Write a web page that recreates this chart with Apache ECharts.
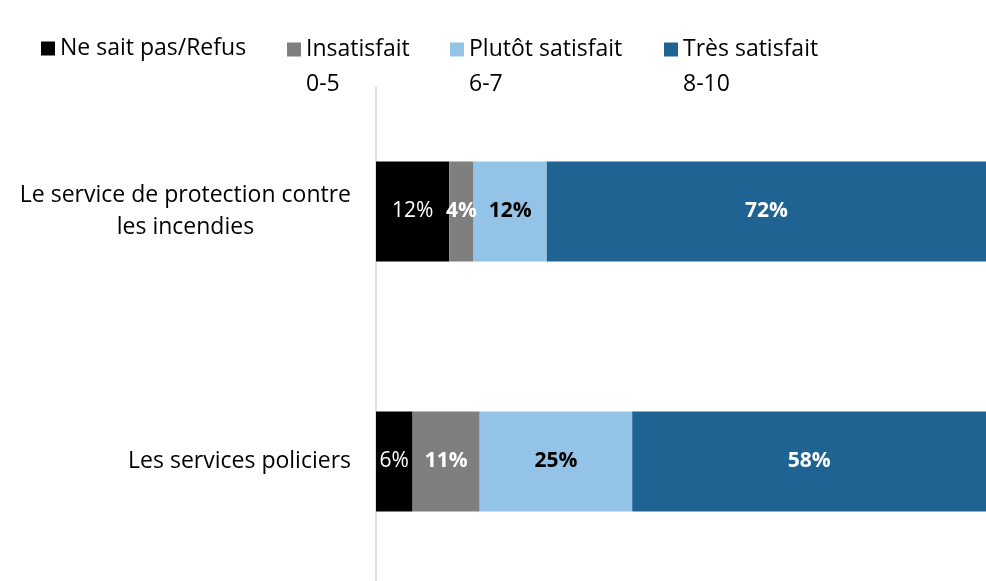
<!DOCTYPE html>
<html>
<head>
<meta charset="utf-8">
<script src="https://cdn.jsdelivr.net/npm/echarts@6/dist/echarts.min.js"></script>
<style>
  html, body { margin: 0; padding: 0; background: #fff; }
  #chart { width: 986px; height: 581px; }
</style>
</head>
<body>
<div id="chart"></div>
<script>
  // categories, top to bottom
  const categories = ['Le service de protection contre\nles incendies', 'Les services policiers'];
  const seriesNames = ['Ne sait pas/Refus', 'Insatisfait', 'Plutôt satisfait', 'Très satisfait'];
  const seriesRanges = ['', '0-5', '6-7', '8-10'];
  const dontKnow = [12, 6];
  const dissatisfied = [4, 11];
  const ratherSatisfied = [12, 25];
  const verySatisfied = [72, 58];

  const colors = ['#000000', '#7f7f7f', '#93c3e6', '#1f6392'];
  const labelColors = ['#ffffff', '#ffffff', '#000000', '#ffffff'];
  const labelWeights = ['normal', 'bold', 'bold', 'bold'];
  const legendLeft = [41, 287, 450, 664];
  const font = 'Open Sans';

  let values = [dontKnow, dissatisfied, ratherSatisfied, verySatisfied];

  let myChart = echarts.init(document.getElementById('chart'));

  // two-line legend texts get a blank first line so the icon sits on the name line
  let legends = seriesNames.map((name, i) => {
    let twoLines = seriesRanges[i] !== '';
    return {
      left: legendLeft[i],
      top: twoLines ? -3 : 31,
      padding: 0,
      icon: 'rect',
      itemWidth: 14,
      itemHeight: 14,
      selectedMode: false,
      data: [name],
      formatter: n => twoLines ? '\u00a0\n' + n + '\n' + seriesRanges[i] : n,
      textStyle: {
        fontFamily: font,
        fontSize: 23,
        color: '#000',
        lineHeight: 35
      }
    };
  });

  let option = {
    animation: false,
    legend: legends,
    grid: {
      left: 376,
      right: 0,
      top: 86.5,
      height: 500,
      outerBoundsMode: 'none'
    },
    xAxis: {
      type: 'value',
      min: 0,
      max: 100,
      show: false
    },
    yAxis: {
      type: 'category',
      inverse: true,
      data: categories,
      axisLine: { lineStyle: { color: '#d9d9d9', width: 1.5 } },
      axisTick: { length: 8, lineStyle: { color: '#d9d9d9', width: 1.5 } },
      axisLabel: {
        margin: 25,
        align: 'right',
        formatter: v => v.split('\n').map(s => '{c|' + s + '}').join('\n'),
        rich: {
          c: {
            align: 'center',
            fontFamily: font,
            fontSize: 23,
            lineHeight: 32,
            color: '#000'
          }
        }
      }
    },
    series: seriesNames.map((name, i) => ({
      name: name,
      type: 'bar',
      stack: 'total',
      barWidth: 100,
      itemStyle: { color: colors[i] },
      label: {
        show: true,
        position: 'inside',
        formatter: '{c}%',
        fontFamily: font,
        fontSize: 21,
        fontWeight: labelWeights[i],
        color: labelColors[i]
      },
      data: values[i]
    }))
  };
  myChart.setOption(option);
</script>
</body>
</html>
